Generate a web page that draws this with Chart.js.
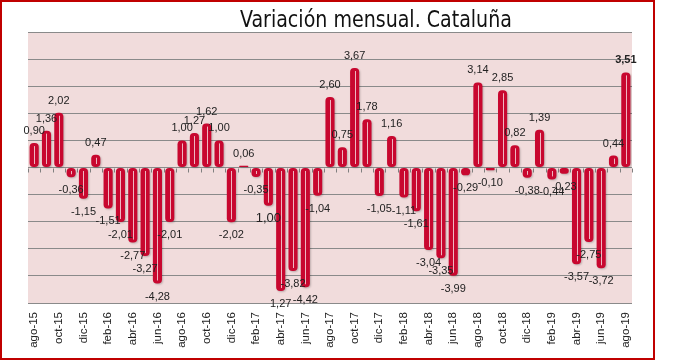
<!DOCTYPE html>
<html>
<head>
<meta charset="utf-8">
<script src="https://cdn.jsdelivr.net/npm/chart.js@4"></script>
<style>
  body { margin: 0; background: #fff; }
  #wrap { position: relative; width: 678px; height: 360px; }
  #marco { position: absolute; left: 0; top: 0; width: 651px; height: 356px; border: 2px solid #c00000; box-sizing: content-box; pointer-events: none; }
  #titulo { position: absolute; left: 226px; top: 6px; width: 300px; text-align: center; font-family: "DejaVu Sans Condensed", "DejaVu Sans"; font-size: 23px; color: #111; white-space: nowrap; transform: scaleX(0.92); transform-origin: 50% 50%; }
</style>
</head>
<body>
<div id="wrap">
  <canvas id="grafico" width="678" height="360"></canvas>
  <div id="titulo">Variación mensual. Cataluña</div>
  <div id="marco"></div>
</div>
<script>
// months from ago-15 to ago-19
const meses = [
  'ago-15','sep-15','oct-15','nov-15','dic-15',
  'ene-16','feb-16','mar-16','abr-16','may-16','jun-16','jul-16','ago-16','sep-16','oct-16','nov-16','dic-16',
  'ene-17','feb-17','mar-17','abr-17','may-17','jun-17','jul-17','ago-17','sep-17','oct-17','nov-17','dic-17',
  'ene-18','feb-18','mar-18','abr-18','may-18','jun-18','jul-18','ago-18','sep-18','oct-18','nov-18','dic-18',
  'ene-19','feb-19','mar-19','abr-19','may-19','jun-19','jul-19','ago-19'
];

// monthly variation (%)
const variacion = [
  0.90, 1.36, 2.02, -0.36, -1.15,
  0.47, -1.51, -2.01, -2.77, -3.27, -4.28, -2.01, 1.00, 1.27, 1.62, 1.00, -2.02,
  0.06, -0.35, -1.41, -4.56, -3.82, -4.42, -1.04, 2.60, 0.75, 3.67, 1.78, -1.05,
  1.16, -1.11, -1.61, -3.04, -3.35, -3.99, -0.29, 3.14, -0.10, 2.85, 0.82, -0.38,
  1.39, -0.44, -0.23, -3.57, -2.75, -3.72, 0.44, 3.51
];

// data labels as printed on the original (two of them don't match their bar)
const etiquetas = [
  '0,90','1,36','2,02','-0,36','-1,15',
  '0,47','-1,51','-2,01','-2,77','-3,27','-4,28','-2,01','1,00','1,27','1,62','1,00','-2,02',
  '0,06','-0,35','1,00','1,27','-3,82','-4,42','-1,04','2,60','0,75','3,67','1,78','-1,05',
  '1,16','-1,11','-1,61','-3,04','-3,35','-3,99','-0,29','3,14','-0,10','2,85','0,82','-0,38',
  '1,39','-0,44','-0,23','-3,57','-2,75','-3,72','0,44','3,51'
];

const rojo = '#c8072f';

// pink plot background
const fondo = {
  id: 'fondo',
  beforeDraw(chart) {
    const a = chart.chartArea, ctx = chart.ctx;
    ctx.save();
    ctx.fillStyle = '#f1dcdc';
    ctx.fillRect(a.left, a.top, a.right - a.left, a.bottom - a.top);
    ctx.restore();
  }
};

// small tick marks on the zero line, between categories
const marcasCero = {
  id: 'marcasCero',
  beforeDatasetsDraw(chart) {
    const x = chart.scales.x, y = chart.scales.y, ctx = chart.ctx;
    const y0 = Math.round(y.getPixelForValue(0)) + 0.5;
    const paso = x.getPixelForValue(1) - x.getPixelForValue(0);
    ctx.save();
    ctx.strokeStyle = '#808080';
    ctx.lineWidth = 1;
    ctx.beginPath();
    for (let i = 0; i <= meses.length; i++) {
      const px = Math.round(x.getPixelForValue(0) - paso / 2 + i * paso) + 0.5;
      ctx.moveTo(px, y0);
      ctx.lineTo(px, y0 + 4);
    }
    ctx.stroke();
    ctx.restore();
  }
};

// soft shadow under the bars
const sombra = {
  id: 'sombra',
  beforeDatasetsDraw(chart) {
    const ctx = chart.ctx;
    ctx.save();
    ctx.shadowColor = 'rgba(0,0,0,0.22)';
    ctx.shadowOffsetX = 1;
    ctx.shadowOffsetY = 1;
    ctx.shadowBlur = 2;
  },
  afterDatasetsDraw(chart) {
    chart.ctx.restore();
  }
};

// white stripe in the bars + value labels
const detalles = {
  id: 'detalles',
  afterDatasetsDraw(chart) {
    const ctx = chart.ctx;
    const barras = chart.getDatasetMeta(0).data;
    ctx.save();
    ctx.strokeStyle = 'rgba(255,255,255,0.7)';
    ctx.lineWidth = 1;
    barras.forEach(function (b) {
      const top = Math.min(b.y, b.base), bot = Math.max(b.y, b.base);
      if (bot - top < 8) return;
      const px = Math.round(b.x) + 0.5;
      ctx.beginPath();
      ctx.moveTo(px, top + 3);
      ctx.lineTo(px, bot - 3);
      ctx.stroke();
    });
    ctx.textAlign = 'center';
    ctx.textBaseline = 'middle';
    ctx.fillStyle = '#222';
    barras.forEach(function (b, i) {
      const v = variacion[i];
      let fuente = '11px "Liberation Sans", Arial, sans-serif';
      if (i === barras.length - 1) fuente = 'bold 11px "Liberation Sans", Arial, sans-serif';
      if (etiquetas[i] === '1,00' && v < 0) fuente = '13px "Liberation Sans", Arial, sans-serif';
      ctx.font = fuente;
      const py = v >= 0 ? b.y - 12 : b.y + 13;
      ctx.fillText(etiquetas[i], b.x, py);
    });
    ctx.restore();
  }
};

new Chart(document.getElementById('grafico'), {
  type: 'bar',
  data: {
    labels: meses,
    datasets: [{
      data: variacion,
      backgroundColor: rojo,
      borderColor: rojo,
      borderWidth: 0,
      borderRadius: 4,
      borderSkipped: false,
      barPercentage: 0.74,
      categoryPercentage: 1
    }]
  },
  options: {
    responsive: false,
    animation: false,
    events: [],
    layout: { padding: { top: 32, left: 28, right: 46, bottom: 0 } },
    plugins: {
      legend: { display: false },
      title: { display: false },
      tooltip: { enabled: false }
    },
    scales: {
      x: {
        offset: true,
        grid: { display: false, drawTicks: true, tickLength: 6 },
        border: { display: false },
        ticks: {
          autoSkip: false,
          minRotation: 90,
          maxRotation: 90,
          padding: 3,
          color: '#222',
          font: { family: '"Liberation Sans", Arial, sans-serif', size: 11.5 },
          callback: function (val, i) { return i % 2 === 0 ? meses[i] : ''; }
        },
        afterFit: function (s) { s.height = 57; }
      },
      y: {
        min: -5,
        max: 5,
        ticks: { display: false, stepSize: 1 },
        grid: { color: '#8a8a8a', lineWidth: 1, drawTicks: false },
        border: { display: false },
        afterFit: function (s) { s.width = 0; }
      }
    }
  },
  plugins: [fondo, marcasCero, sombra, detalles]
});
</script>
</body>
</html>
